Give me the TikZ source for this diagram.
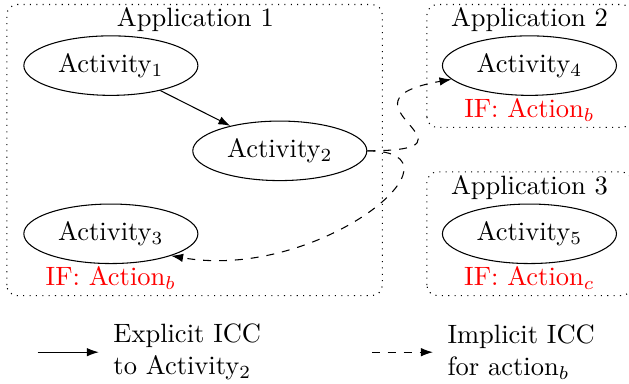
\documentclass[tikz,border=0pt]{standalone}
\usetikzlibrary{positioning,shapes.geometric,arrows.meta}

\tikzset{
  activity/.style={draw, ellipse},
  appbox/.style={draw, dotted, rounded corners},
  cond/.style={text=red},
  icc/.style={-{Latex[length=4.5pt,width=3.2pt]}},
  implicit/.style={-{Latex[length=4.5pt,width=3.2pt]}, dashed},
}

\begin{document}
\begin{tikzpicture}
\useasboundingbox (0,0) rectangle (8.34,5.09);

% applications
\draw[appbox] (0.09,1.17) rectangle (5.07,5.03);
\draw[appbox] (5.66,3.40) rectangle (8.38,5.03);
\draw[appbox] (5.66,1.17) rectangle (8.38,2.81);
\node (app1) at (2.59,4.83) {Application 1};
\node (app2) at (7.02,4.83) {Application 2};
\node (app3) at (7.02,2.60) {Application 3};

% activities
\node[activity] (act1) at (1.47,4.22) {Activity$_1$};
\node[activity] (act2) at (3.71,3.09) {Activity$_2$};
\node[activity] (act3) at (1.47,1.99) {Activity$_3$};
\node[activity] (act4) at (7.02,4.22) {Activity$_4$};
\node[activity] (act5) at (7.02,1.99) {Activity$_5$};

\node[cond, below=-2.5pt of act3] (if3) {IF: Action$_b$};
\node[cond, below=-2.5pt of act4] (if4) {IF: Action$_b$};
\node[cond, below=-2.5pt of act5] (if5) {IF: Action$_c$};

% intents
\draw[icc] (act1) -- (act2);
\draw[implicit] (act2.east) to[out=0, in=190, out distance=1.72cm, in distance=1.72cm] (act4.190);
\draw[implicit] (act2.east) to[out=0, in=-10, out distance=1.45cm, in distance=2cm] (act3.-20);

% legend
\coordinate (e1) at (0.50,0.42);
\coordinate (e2) at (1.31,0.42);
\draw[icc] (e1) -- (e2);
\node[right=2pt of e2, align=left] (explicit) {Explicit ICC\\to Activity$_2$};
\coordinate (i1) at (4.93,0.42);
\coordinate (i2) at (5.74,0.42);
\draw[implicit] (i1) -- (i2);
\node[right=2pt of i2, align=left] (implicitlbl) {Implicit ICC\\for action$_b$};

\end{tikzpicture}
\end{document}
